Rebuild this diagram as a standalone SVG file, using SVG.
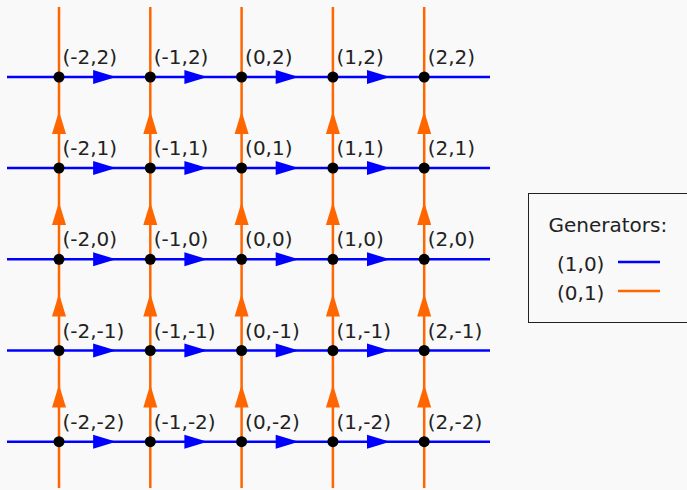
<svg xmlns="http://www.w3.org/2000/svg" width="687" height="490" viewBox="0 0 687 490">
<defs>
<style>
.h{stroke:#0000ff;stroke-width:2.5;fill:none}
.v{stroke:#ff6600;stroke-width:2.5;fill:none}
.ha{fill:#0000ff}
.va{fill:#ff6600}
.d{fill:#000}
text{font-family:"DejaVu Sans",sans-serif;font-size:20px;fill:#222}
</style>
<path id="ah" d="M-11.5,-7 L11.5,0 L-11.5,7 Z" class="ha"/>
<path id="av" d="M-7,11.5 L0,-11.5 L7,11.5 Z" class="va"/>
</defs>
<rect width="687" height="490" fill="#f9f9f9"/>
<g id="connectors">
<line class="v" x1="59" y1="7" x2="59" y2="488"/>
<line class="v" x1="150.3" y1="7" x2="150.3" y2="488"/>
<line class="v" x1="241.6" y1="7" x2="241.6" y2="488"/>
<line class="v" x1="332.9" y1="7" x2="332.9" y2="488"/>
<line class="v" x1="424.2" y1="7" x2="424.2" y2="488"/>
<line class="h" x1="7" y1="77" x2="490" y2="77"/>
<line class="h" x1="7" y1="168" x2="490" y2="168"/>
<line class="h" x1="7" y1="259.3" x2="490" y2="259.3"/>
<line class="h" x1="7" y1="350.5" x2="490" y2="350.5"/>
<line class="h" x1="7" y1="441.7" x2="490" y2="441.7"/>
<g>
<use href="#ah" x="104.6" y="77"/><use href="#ah" x="195.9" y="77"/><use href="#ah" x="287.2" y="77"/><use href="#ah" x="378.5" y="77"/>
<use href="#ah" x="104.6" y="168"/><use href="#ah" x="195.9" y="168"/><use href="#ah" x="287.2" y="168"/><use href="#ah" x="378.5" y="168"/>
<use href="#ah" x="104.6" y="259.3"/><use href="#ah" x="195.9" y="259.3"/><use href="#ah" x="287.2" y="259.3"/><use href="#ah" x="378.5" y="259.3"/>
<use href="#ah" x="104.6" y="350.5"/><use href="#ah" x="195.9" y="350.5"/><use href="#ah" x="287.2" y="350.5"/><use href="#ah" x="378.5" y="350.5"/>
<use href="#ah" x="104.6" y="441.7"/><use href="#ah" x="195.9" y="441.7"/><use href="#ah" x="287.2" y="441.7"/><use href="#ah" x="378.5" y="441.7"/>
</g>
<g>
<use href="#av" x="59" y="122.5"/><use href="#av" x="59" y="213.6"/><use href="#av" x="59" y="304.9"/><use href="#av" x="59" y="396.1"/>
<use href="#av" x="150.3" y="122.5"/><use href="#av" x="150.3" y="213.6"/><use href="#av" x="150.3" y="304.9"/><use href="#av" x="150.3" y="396.1"/>
<use href="#av" x="241.6" y="122.5"/><use href="#av" x="241.6" y="213.6"/><use href="#av" x="241.6" y="304.9"/><use href="#av" x="241.6" y="396.1"/>
<use href="#av" x="332.9" y="122.5"/><use href="#av" x="332.9" y="213.6"/><use href="#av" x="332.9" y="304.9"/><use href="#av" x="332.9" y="396.1"/>
<use href="#av" x="424.2" y="122.5"/><use href="#av" x="424.2" y="213.6"/><use href="#av" x="424.2" y="304.9"/><use href="#av" x="424.2" y="396.1"/>
</g>
</g>
<g id="n-2_2"><circle class="d" cx="59" cy="77" r="5.5"/><text x="62.5" y="64">(-2,2)</text></g>
<g id="n-1_2"><circle class="d" cx="150.3" cy="77" r="5.5"/><text x="153.8" y="64">(-1,2)</text></g>
<g id="n0_2"><circle class="d" cx="241.6" cy="77" r="5.5"/><text x="245.1" y="64">(0,2)</text></g>
<g id="n1_2"><circle class="d" cx="332.9" cy="77" r="5.5"/><text x="336.4" y="64">(1,2)</text></g>
<g id="n2_2"><circle class="d" cx="424.2" cy="77" r="5.5"/><text x="427.7" y="64">(2,2)</text></g>
<g id="n-2_1"><circle class="d" cx="59" cy="168" r="5.5"/><text x="62.5" y="155">(-2,1)</text></g>
<g id="n-1_1"><circle class="d" cx="150.3" cy="168" r="5.5"/><text x="153.8" y="155">(-1,1)</text></g>
<g id="n0_1"><circle class="d" cx="241.6" cy="168" r="5.5"/><text x="245.1" y="155">(0,1)</text></g>
<g id="n1_1"><circle class="d" cx="332.9" cy="168" r="5.5"/><text x="336.4" y="155">(1,1)</text></g>
<g id="n2_1"><circle class="d" cx="424.2" cy="168" r="5.5"/><text x="427.7" y="155">(2,1)</text></g>
<g id="n-2_0"><circle class="d" cx="59" cy="259.3" r="5.5"/><text x="62.5" y="246.3">(-2,0)</text></g>
<g id="n-1_0"><circle class="d" cx="150.3" cy="259.3" r="5.5"/><text x="153.8" y="246.3">(-1,0)</text></g>
<g id="n0_0"><circle class="d" cx="241.6" cy="259.3" r="5.5"/><text x="245.1" y="246.3">(0,0)</text></g>
<g id="n1_0"><circle class="d" cx="332.9" cy="259.3" r="5.5"/><text x="336.4" y="246.3">(1,0)</text></g>
<g id="n2_0"><circle class="d" cx="424.2" cy="259.3" r="5.5"/><text x="427.7" y="246.3">(2,0)</text></g>
<g id="n-2_-1"><circle class="d" cx="59" cy="350.5" r="5.5"/><text x="62.5" y="337.5">(-2,-1)</text></g>
<g id="n-1_-1"><circle class="d" cx="150.3" cy="350.5" r="5.5"/><text x="153.8" y="337.5">(-1,-1)</text></g>
<g id="n0_-1"><circle class="d" cx="241.6" cy="350.5" r="5.5"/><text x="245.1" y="337.5">(0,-1)</text></g>
<g id="n1_-1"><circle class="d" cx="332.9" cy="350.5" r="5.5"/><text x="336.4" y="337.5">(1,-1)</text></g>
<g id="n2_-1"><circle class="d" cx="424.2" cy="350.5" r="5.5"/><text x="427.7" y="337.5">(2,-1)</text></g>
<g id="n-2_-2"><circle class="d" cx="59" cy="441.7" r="5.5"/><text x="62.5" y="428.7">(-2,-2)</text></g>
<g id="n-1_-2"><circle class="d" cx="150.3" cy="441.7" r="5.5"/><text x="153.8" y="428.7">(-1,-2)</text></g>
<g id="n0_-2"><circle class="d" cx="241.6" cy="441.7" r="5.5"/><text x="245.1" y="428.7">(0,-2)</text></g>
<g id="n1_-2"><circle class="d" cx="332.9" cy="441.7" r="5.5"/><text x="336.4" y="428.7">(1,-2)</text></g>
<g id="n2_-2"><circle class="d" cx="424.2" cy="441.7" r="5.5"/><text x="427.7" y="428.7">(2,-2)</text></g>
<g id="legend">
<rect x="528.5" y="193.5" width="170" height="129" fill="#f9f9f9" stroke="#222" stroke-width="1"/>
<text x="548.5" y="232">Generators:</text>
<text x="557" y="271">(1,0)</text>
<line x1="618" y1="262" x2="660" y2="262" stroke="#0000ff" stroke-width="2.5"/>
<text x="557" y="300">(0,1)</text>
<line x1="618" y1="291" x2="660" y2="291" stroke="#ff6600" stroke-width="2.5"/>
</g>
</svg>
